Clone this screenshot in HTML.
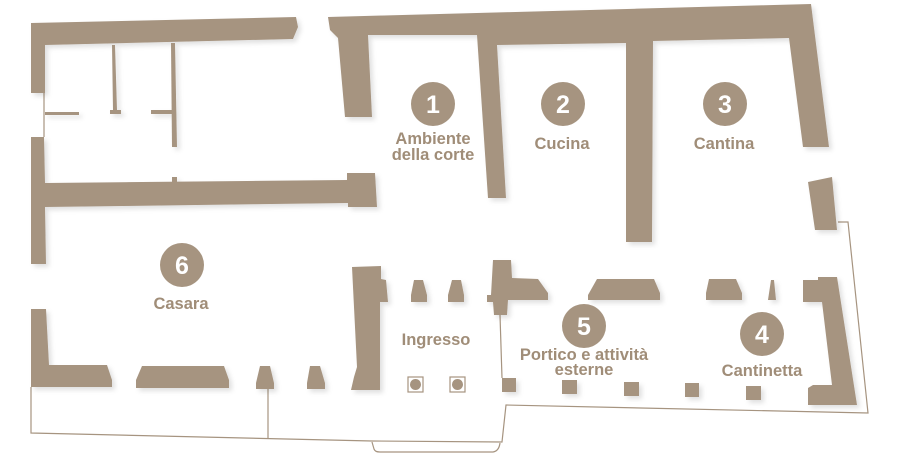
<!DOCTYPE html>
<html><head><meta charset="utf-8"><style>
html,body{margin:0;padding:0;background:#fff;}
svg{display:block}
text{font-family:"Liberation Sans",sans-serif;font-weight:bold;fill:#a08d78;text-anchor:middle}
.n{fill:#fff;font-size:25px}
.l{font-size:16.5px}
</style></head><body>
<svg width="900" height="456" viewBox="0 0 900 456">
<defs><filter id="s" x="-5%" y="-5%" width="115%" height="115%"><feDropShadow dx="3" dy="3" stdDeviation="2.5" flood-color="#000" flood-opacity="0.12"/></filter></defs>
<g fill="none" stroke="#a69480" stroke-width="1.2">
<polyline points="44,93 44,137"/>
<polyline points="31,387 31,433 372,441 502,442 506,405 868,413 848,222 838,222"/>
<path d="M372,442 L374,449 Q375,452 380,452 L493,452 Q499,451 500,443"/>
<polyline points="268,389 268,439"/>
<polyline points="500,315 502,378"/>
<rect x="408" y="377" width="15" height="15"/>
<rect x="450" y="377" width="15" height="15"/>
</g>
<g fill="#a69480" filter="url(#s)">
<polygon points="31,23 296,17 298,27 293,39 45,45 45,93 31,93"/>
<polygon points="31,137 44,137 45,183 347,180 347,173 375,173 377,207 348,207 348,203 45,207 46,264 31,264"/>
<polygon points="112,45 115,45 117,110 121,110 121,114 110,114 110,110 113,110"/>
<polygon points="171,43 175,43 177,147 172,147"/>
<rect x="45" y="112" width="34" height="3"/>
<rect x="151" y="110" width="21" height="4"/>
<rect x="172" y="177" width="5" height="6"/>
<polygon points="328,17 811,4 829,147 803,147 789,38 653,41 652,242 626,242 626,43 497,45 506,198 488,198 477,35 368,35 372,117 345,117 338,38 330,30"/>
<polygon points="808,182 832,177 837,230 815,230"/>
<polygon points="803,280 818,280 818,277 837,277 857,405 808,405 808,388 813,385 832,385 822,302 803,302"/>
<polygon points="31,309 46,309 49,365 107,365 112,380 112,387 31,387"/>
<polygon points="142,366 224,366 229,380 229,388 136,388 136,380"/>
<polygon points="260,366 270,366 274,383 274,389 256,389 256,383"/>
<polygon points="310,366 320,366 325,383 325,389 307,389 307,383"/>
<polygon points="352,267 381,266 381,279 386,280 388,302 380,302 380,390 351,390 354,377 357,367"/>
<polygon points="414,280 423,280 427,295 427,302 411,302 411,295"/>
<polygon points="452,280 461,280 464,295 464,302 448,302 448,295"/>
<polygon points="493,260 511,260 512,278 538,279 548,293 548,300 508,300 507,315 494,315 493,302 487,302 487,295 491,295"/>
<polygon points="597,279 654,279 660,293 660,300 588,300 588,295"/>
<polygon points="709,279 736,279 742,293 742,300 706,300 706,293"/>
<polygon points="771,280 774,280 776,300 768,300"/>
<rect x="502" y="378" width="14" height="14"/>
<rect x="562" y="380" width="15" height="14"/>
<rect x="624" y="382" width="15" height="14"/>
<rect x="685" y="383" width="14" height="14"/>
<rect x="746" y="386" width="15" height="14"/>
</g>
<g fill="#a69480">
<circle cx="415.5" cy="384.5" r="5.5"/><circle cx="457.5" cy="384.5" r="5.5"/>
<circle cx="433" cy="104" r="22"/><circle cx="563" cy="104" r="22"/><circle cx="725" cy="104" r="22"/>
<circle cx="182" cy="265" r="22"/><circle cx="584" cy="326" r="22"/><circle cx="762" cy="334" r="22"/>
</g>
<text class="n" x="433" y="113">1</text>
<text class="n" x="563" y="113">2</text>
<text class="n" x="725" y="113">3</text>
<text class="n" x="182" y="274">6</text>
<text class="n" x="584" y="335">5</text>
<text class="n" x="762" y="343">4</text>
<text class="l" x="433" y="144">Ambiente</text>
<text class="l" x="433" y="160">della corte</text>
<text class="l" x="562" y="149">Cucina</text>
<text class="l" x="724" y="149">Cantina</text>
<text class="l" x="181" y="309">Casara</text>
<text class="l" x="436" y="345">Ingresso</text>
<text class="l" x="584" y="360">Portico e attività</text>
<text class="l" x="584" y="375">esterne</text>
<text class="l" x="762" y="376">Cantinetta</text>
</svg>
</body></html>
